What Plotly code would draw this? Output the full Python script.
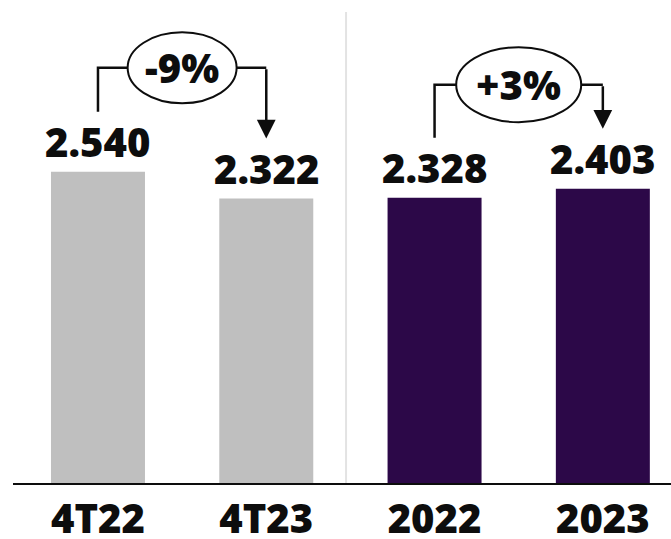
import plotly.graph_objects as go

# Data
categories = ["4T22", "4T23", "2022", "2023"]
values = [2540, 2322, 2328, 2403]
bar_colors = ["#BFBFBF", "#BFBFBF", "#2C0848", "#2C0848"]
changes = ["-9%", "+3%"]          # comparison pairs: (0 -> 1), (2 -> 3)
pairs = [(0, 1), (2, 3)]

FONT = "Open Sans"
W, H = 671, 539
M_L, M_R, M_T, M_B = 13, 0, 0, 56
X_RANGE = [-0.505, 3.405]
Y_RANGE = [0, 3943]

plot_h = H - M_T - M_B
plot_w = W - M_L - M_R
px_y = plot_h / (Y_RANGE[1] - Y_RANGE[0])   # pixels per data unit (y)
px_x = plot_w / (X_RANGE[1] - X_RANGE[0])   # pixels per category unit (x)


def up(v, px):
    """Data value shifted upward by a pixel amount."""
    return v + px / px_y


def fmt(v):
    return f"{v:,}".replace(",", ".")


fig = go.Figure()
fig.add_trace(go.Bar(
    x=list(range(len(categories))),
    y=values,
    width=0.5585,
    marker=dict(color=bar_colors, line=dict(width=0)),
    hoverinfo="skip",
))

shapes = []
annotations = []
INK = "#0D0D0D"

# Value labels above the bars
for i, v in enumerate(values):
    annotations.append(dict(
        x=i, y=v, xref="x", yref="y", text=fmt(v), showarrow=False,
        yanchor="bottom", yshift=1,
        font=dict(family=FONT, size=40, color=INK, weight=800),
    ))

# Divider between quarterly and annual comparison
shapes.append(dict(
    type="line", xref="x", yref="y", x0=1.474, x1=1.474,
    y0=0, y1=up(0, plot_h - 12),
    line=dict(color="#E3E3E3", width=2),
))

# Bracket arrows with the percentage change in an ellipse
ellipse_half = [(54.5, 35.5), (62.5, 37.5)]
for (a, b), label, (rx, ry) in zip(pairs, changes, ellipse_half):
    top = max(values[a], values[b])
    level = up(top, 104)
    start = up(values[a], 60)
    end = up(values[b], 60)
    mid = (a + b) / 2
    # left riser and horizontal run
    shapes.append(dict(type="path", xref="x", yref="y",
                       path=f"M {a},{start} L {a},{level} L {mid},{level}",
                       line=dict(color=INK, width=2.5)))
    shapes.append(dict(type="line", xref="x", yref="y",
                       x0=mid, x1=b, y0=level, y1=level,
                       line=dict(color=INK, width=2.5)))
    # ellipse
    shapes.append(dict(type="circle", xref="x", yref="y",
                       x0=mid - rx / px_x, x1=mid + rx / px_x,
                       y0=level - ry / px_y, y1=level + ry / px_y,
                       line=dict(color=INK, width=2),
                       fillcolor="white", layer="above"))
    # arrow down to the second bar
    annotations.append(dict(
        x=b, y=end, xref="x", yref="y", ax=b, ay=level,
        axref="x", ayref="y", text="", showarrow=True,
        arrowhead=2, arrowsize=1.5, arrowwidth=2.5, arrowcolor=INK,
        standoff=0,
    ))
    annotations.append(dict(
        x=mid, y=level, xref="x", yref="y", text=label, showarrow=False,
        font=dict(family=FONT, size=40, color=INK, weight=800),
    ))

fig.update_layout(
    width=W, height=H,
    margin=dict(l=M_L, r=M_R, t=M_T, b=M_B, autoexpand=False),
    paper_bgcolor="white", plot_bgcolor="white",
    showlegend=False,
    shapes=shapes,
    annotations=annotations,
    xaxis=dict(
        range=X_RANGE, tickvals=list(range(len(categories))),
        ticktext=categories, showgrid=False, zeroline=False,
        showline=True, linecolor=INK, linewidth=2,
        ticks="", fixedrange=True, automargin=False,
        tickfont=dict(family=FONT, size=40, color=INK, weight=800),
    ),
    yaxis=dict(range=Y_RANGE, visible=False, fixedrange=True),
)

fig.write_html("out.html", config={"displayModeBar": False})
